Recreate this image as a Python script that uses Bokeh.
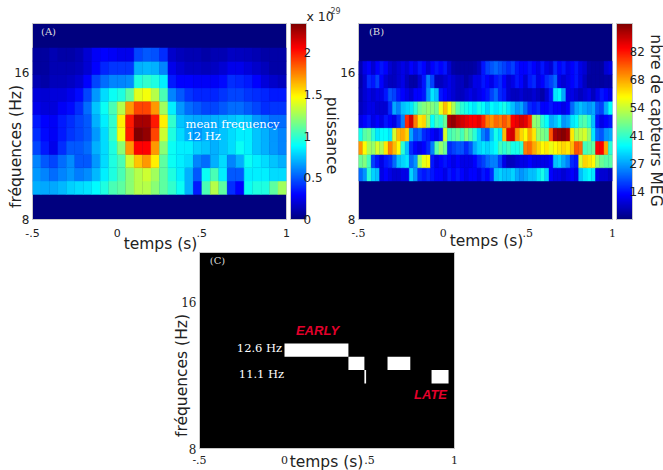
from bokeh.plotting import figure
from bokeh.models import (ColumnDataSource, LinearColorMapper, ColorBar, FixedTicker, Label, Range1d,
                          PrintfTickFormatter, Spacer)
from bokeh.layouts import column, row
from bokeh.embed import file_html
from bokeh.resources import INLINE
import math

FREQ_EDGES = [9.00, 9.59, 10.21, 10.87, 11.58, 12.33, 13.13, 13.98, 14.88, 15.85, 16.88, 17.97]
T_EDGES_A = [-0.5 + i * 0.05 for i in range(31)]
T_EDGES_B = [-0.5 + i * 0.025 for i in range(61)]

# Panel A, rows listed from lowest frequency band upward
A_ROW0 = [.7,.68,.68,.72,.78,.8,.82,.88,.95,1.05,1.1,1.2,1.3,1.3,1.2,1.1,1.0,.9,.7,.35,1.05,1.3,1.1,.4,.3,.9,.95,.95,1.1,1.25]
A_ROW1 = [.65,.6,.55,.6,.65,.58,.62,.72,.85,.95,1.05,1.2,1.3,1.35,1.25,1.1,.95,.85,.7,.5,.9,1.05,.85,.5,.5,.85,.85,.85,.8,.8]
A_ROW2 = [.6,.5,.45,.55,.62,.5,.5,.65,.8,.95,1.05,1.35,1.6,1.7,1.5,1.1,.9,.85,.8,.6,.55,.7,.8,.6,.7,.9,.85,.8,.75,.7]
A_ROW3 = [.45,.35,.25,.4,.5,.5,.55,.7,.8,.95,1.2,1.7,2.05,2.05,1.7,1.2,.9,.85,.85,.78,.75,.7,.75,.8,.9,.85,.75,.7,.65,.6]
A_ROW4 = [.4,.32,.28,.35,.42,.45,.5,.65,.8,1.0,1.45,2.0,2.35,2.3,1.9,1.35,.95,.8,.7,.65,.7,.7,.75,.8,.85,.85,.75,.7,.65,.6]
A_ROW5 = [.35,.3,.28,.35,.4,.45,.5,.7,.85,1.0,1.5,2.0,2.25,2.25,2.0,1.5,1.0,.75,.7,.68,.68,.7,.72,.75,.78,.75,.65,.6,.55,.55]
A_ROW6 = [.25,.22,.22,.28,.32,.4,.55,.75,.9,1.05,1.3,1.7,1.9,1.9,1.7,1.25,.85,.65,.55,.5,.45,.45,.5,.55,.55,.5,.45,.4,.42,.42]
A_ROW7 = [.22,.2,.22,.22,.25,.32,.45,.65,.8,.9,.95,1.1,1.4,1.45,1.3,1.05,.6,.5,.42,.38,.38,.38,.42,.45,.45,.42,.4,.38,.35,.35]
A_ROW8 = [.12,.1,.14,.14,.16,.2,.3,.45,.55,.6,.6,.62,.95,1.0,.95,.85,.35,.3,.3,.28,.28,.28,.32,.4,.38,.35,.3,.22,.18,.15]
A_ROW9 = [.08,.08,.12,.12,.12,.14,.2,.3,.38,.42,.42,.42,.7,.72,.7,.6,.25,.2,.16,.16,.14,.16,.2,.25,.25,.22,.18,.14,.1,.1]
A_ROW10 = [.08,.08,.12,.1,.1,.12,.2,.28,.3,.28,.25,.25,.45,.5,.48,.4,.18,.14,.12,.12,.1,.12,.12,.16,.15,.14,.12,.1,.1,.1]
A_ROWS = [A_ROW0, A_ROW1, A_ROW2, A_ROW3, A_ROW4, A_ROW5, A_ROW6, A_ROW7, A_ROW8, A_ROW9, A_ROW10]

# Panel B, rows from band 1 upward
B_ROW1 = [22,26,40,32,30,10,12,10,8,8, 10,10,32,26,16,14,16,14,12,12, 10,14,12,14,12,10,12,12,10,14,
          12,16,30,32,30,30,32,28,26,28, 30,30,34,38,32,12,10,10,8,10, 12,10,30,34,36,34,10,8,8,6]
B_ROW2 = [46,48,42,18,14,10,14,16,22,30, 32,34,22,26,50,58,60,14,10,12, 14,12,10,12,10,10,10,12,16,18,
          22,24,24,18,10,6,6,8,10,10, 12,10,10,10,10,12,30,32,28,24, 16,14,56,64,62,60,50,46,44,44]
B_ROW3 = [70,60,52,50,56,52,62,72,66,60, 40,30,16,12,10,12,16,24,44,50, 46,16,18,20,20,16,20,28,32,34,
          32,34,36,42,40,42,38,38,40,72, 74,68,64,60,62,58,60,62,64,62, 66,76,74,42,44,46,84,84,68,40]
B_ROW4 = [38,44,46,40,34,36,36,34,56,66, 68,64,28,20,22,16,14,12,10,14, 56,42,44,46,42,48,44,40,32,24,
          20,30,38,34,66,86,88,70,64,60, 68,62,50,48,46,76,92,94,95,92, 62,52,54,56,50,34,22,20,26,28]
B_ROW5 = [10,12,14,10,12,10,14,12,10,16, 24,80,88,72,62,64,50,36,42,40, 46,92,94,90,88,86,84,84,86,80,
          72,70,74,72,76,72,84,86,88,86, 80,50,48,40,36,28,30,34,26,28, 34,36,42,44,40,30,14,10,12,14]
B_ROW6 = [6,8,10,10,8,8,8,16,28,24, 30,32,34,40,46,48,50,48,46,58, 66,60,52,44,40,38,36,34,38,36,
          32,36,34,36,38,34,30,26,28,22, 16,14,16,12,12,14,12,12,10,12, 22,28,30,28,26,28,20,18,28,36]
B_ROW7 = [5,8,10,8,10,10,14,20,18,14, 12,10,8,12,12,14,26,34,30,14, 12,10,8,6,6,8,10,8,10,12,
          14,18,22,16,14,8,6,6,8,6, 6,8,6,4,8,14,34,36,28,10, 10,8,6,8,10,6,10,14,12,10]
B_ROW8 = [4,8,16,14,18,12,8,6,6,8, 10,6,4,4,8,14,24,18,6,6, 8,10,8,6,6,4,6,10,10,14,
          12,10,14,16,12,8,10,14,12,8, 14,16,10,12,16,18,22,10,8,10, 12,14,10,6,3,3,3,3,4,4]
B_ROW9 = [5,10,12,8,12,14,12,8,6,8, 10,8,12,10,14,12,8,12,14,12, 14,8,4,3,3,3,3,4,6,14,
          18,20,22,20,18,16,18,14,12,12, 14,12,10,14,10,8,16,12,14,10, 12,14,10,8,4,3,3,3,8,10]
B_ROWS = [B_ROW1, B_ROW2, B_ROW3, B_ROW4, B_ROW5, B_ROW6, B_ROW7, B_ROW8, B_ROW9]

# Panel C: selected time-frequency blocks
C_BAND = [5, 4, 3, 4, 3]
C_START = [0.0, 0.376, 0.47, 0.606, 0.865]
C_END = [0.376, 0.47, 0.48, 0.74, 0.965]

A_TICKS = [0, 0.5, 1, 1.5, 2]
A_LABELS = ["0", "0.5", "1", "1.5", "2"]
B_TICKS = [13.7, 27.4, 41.1, 54.8, 68.5, 82.2]
B_LABELS = ["14", "27", "41", "54", "68", "82"]
X_TICKS = [-0.5, 0, 0.5, 1]
X_LABELS = ["-.5", "0", ".5", "1"]
Y_TICKS = [8, 16]


def jet(n=256):
    out = []
    for i in range(n):
        t = i / (n - 1)
        r = min(max(min(4 * t - 1.5, -4 * t + 4.5), 0), 1)
        g = min(max(min(4 * t - 0.5, -4 * t + 3.5), 0), 1)
        b = min(max(min(4 * t + 0.5, -4 * t + 2.5), 0), 1)
        out.append("#%02x%02x%02x" % (int(r * 255), int(g * 255), int(b * 255)))
    return out


JET = jet()
SANS = "DejaVu Sans"
SERIF = "DejaVu Serif"
INK = "#222222"
YMAX = 20.16


def panel(w, h, left, right, top, bottom, bg, tick_font, y_font, x_stand, tick_size="11px"):
    p = figure(width=w, height=h, output_backend="svg", toolbar_location=None,
               x_range=Range1d(-0.5, 1), y_range=Range1d(8, YMAX), y_axis_type="log",
               min_border_left=left, min_border_right=right, min_border_top=top, min_border_bottom=bottom,
               background_fill_color=bg, border_fill_color=None, outline_line_color="#c8c8c8")
    p.grid.visible = False
    for ax in (p.xaxis[0], p.yaxis[0]):
        ax.axis_line_color = None
        ax.major_tick_line_color = None
        ax.minor_tick_line_color = None
        ax.major_tick_out = 0
        ax.major_tick_in = 0
        ax.minor_tick_out = 0
        ax.minor_tick_in = 0
        ax.major_label_text_color = INK
        ax.major_label_text_font_size = tick_size
    p.xaxis[0].ticker = FixedTicker(ticks=X_TICKS)
    p.xaxis[0].major_label_overrides = dict(zip(X_TICKS, X_LABELS))
    p.xaxis[0].major_label_text_font = tick_font
    p.xaxis[0].major_label_standoff = x_stand
    p.yaxis[0].ticker = FixedTicker(ticks=Y_TICKS)
    p.yaxis[0].formatter = PrintfTickFormatter(format="%d")
    p.yaxis[0].major_label_text_font = y_font
    p.yaxis[0].major_label_standoff = 3
    p.yaxis[0].major_label_text_font_size = "12px"
    return p


def heat(p, rows, first_band, t_edges, mapper):
    l, r, b, t, v = [], [], [], [], []
    for k, vals in enumerate(rows):
        band = first_band + k
        for i, val in enumerate(vals):
            l.append(t_edges[i]); r.append(t_edges[i + 1])
            b.append(FREQ_EDGES[band]); t.append(FREQ_EDGES[band + 1]); v.append(val)
    src = ColumnDataSource(dict(l=l, r=r, b=b, t=t, v=v))
    tr = {"field": "v", "transform": mapper}
    p.quad(left="l", right="r", bottom="b", top="t", source=src, fill_color=tr, line_color=tr, line_width=0.4)


def cbar(p, mapper, ticks, labels):
    cb = ColorBar(color_mapper=mapper, location=(258, 0), width=16, height=196, padding=0, margin=0,
                  ticker=FixedTicker(ticks=ticks), major_label_overrides=dict(zip(ticks, labels)),
                  major_tick_line_color=None, minor_tick_line_color=None, bar_line_color="#c8c8c8",
                  major_label_text_font=SANS, major_label_text_font_size="12px",
                  major_label_text_color=INK, label_standoff=-3,
                  background_fill_color=None, border_line_color=None)
    p.add_layout(cb)


# Panel A
map_a = LinearColorMapper(palette=JET, low=0, high=2.35)
a = panel(336, 250, 32, 50, 23, 31, JET[0], SANS, SANS, 9)
heat(a, A_ROWS, 0, T_EDGES_A, map_a)
cbar(a, map_a, A_TICKS, A_LABELS)

# Panel B
map_b = LinearColorMapper(palette=JET, low=0, high=96)
b = panel(327, 250, 22, 51, 23, 31, JET[0], SERIF, SANS, 9)
heat(b, B_ROWS, 1, T_EDGES_B, map_b)
cbar(b, map_b, B_TICKS, B_LABELS)

# Panel C
c = panel(304, 220, 39, 10, 2, 22, "black", SERIF, SERIF, 7)
c_src = ColumnDataSource(dict(l=C_START, r=C_END,
                              b=[FREQ_EDGES[k] for k in C_BAND],
                              t=[FREQ_EDGES[k + 1] for k in C_BAND]))
c.quad(left="l", right="r", bottom="b", top="t", source=c_src, fill_color="white", line_color=None)

# Transparent sheet over the whole page carrying the free texts (page pixel coordinates)
sheet = figure(width=663, height=470, output_backend="svg", toolbar_location=None,
               x_range=Range1d(0, 663), y_range=Range1d(470, 0),
               x_axis_location=None, y_axis_location=None, min_border=0,
               min_border_left=0, min_border_right=0, min_border_top=0, min_border_bottom=0,
               background_fill_alpha=0, border_fill_alpha=0, outline_line_color=None,
               margin=(-470, 0, 0, 0))
sheet.grid.visible = False


def text(px, py, s, size, font=SANS, color=INK, align="center", angle=0, style="normal"):
    sheet.add_layout(Label(x=px, y=py, text=s, text_font=font, text_font_size=size, text_color=color,
                           text_align=align, text_baseline="middle", angle=angle, text_font_style=style))


text(48, 31, "(A)", "10px", SERIF, "#dddddd")
text(185, 123, "mean frequency", "11.5px", SERIF, "white", "left")
text(186, 135, "12 Hz", "11.5px", SERIF, "white", "left")
text(160, 243, "temps (s)", "15.5px")
text(15, 146, "fréquences (Hz)", "15.5px", angle=math.pi / 2)
text(331, 135, "puissance", "15.5px", angle=-math.pi / 2)
text(306, 16, "x 10", "12.5px", align="left")
text(327, 10, "-29", "8px", align="left", color="#444444")

text(376, 31, "(B)", "10px", SERIF, "#dddddd")
text(486, 240, "temps (s)", "15.5px")
text(655, 120, "nbre de capteurs MEG", "15.5px", angle=-math.pi / 2)

text(217, 260, "(C)", "10px", SERIF, "#dddddd")
text(259, 347, "12.6 Hz", "11.5px", SERIF, "white")
text(261, 373, "11.1 Hz", "11.5px", SERIF, "white")
text(317, 330, "EARLY", "13px", "Liberation Sans", "#e4002b", style="bold italic")
text(430, 394, "LATE", "13px", "Liberation Sans", "#e4002b", style="bold italic")
text(326, 461, "temps (s)", "15.5px")
text(181, 375, "fréquences (Hz)", "15.5px", angle=math.pi / 2)

layout = column(row(a, b), row(Spacer(width=160, height=220), c), sheet)
open("out.html", "w").write(file_html(layout, INLINE))
